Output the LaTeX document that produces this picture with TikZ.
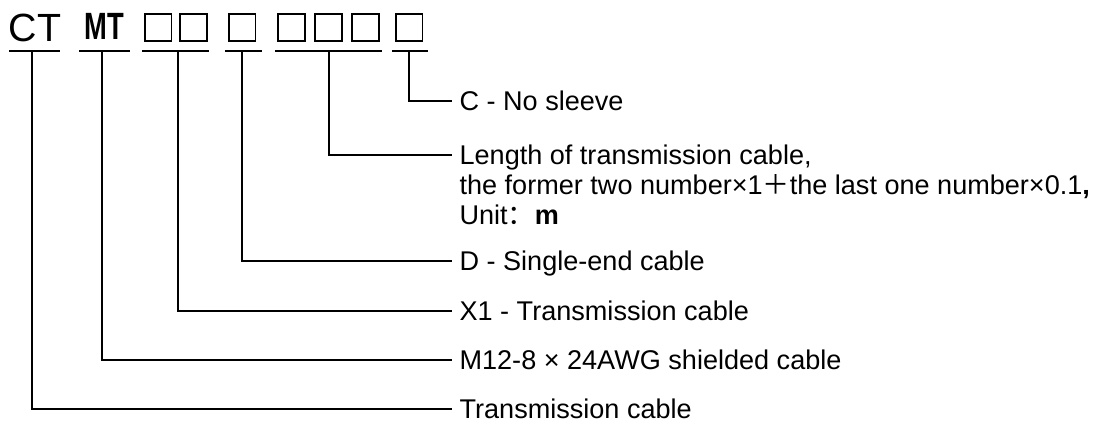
\documentclass[tikz,border=0pt]{standalone}
\usepackage{fontspec}
\setmainfont{Liberation Sans}
\newfontfamily\cjk{Noto Sans CJK SC}
\newfontfamily\narrowfont{Liberation Sans}[FakeStretch=0.72]
\usepackage{tikz}
\usetikzlibrary{positioning}

\begin{document}
\begin{tikzpicture}[x=0.75pt,y=-0.75pt,
    slot/.style={draw,line width=1.25pt,minimum size=20pt,inner sep=0pt},
    bar/.style={line width=1.5pt},
    lead/.style={line width=1.5pt},
    desc/.style={anchor=west,inner xsep=5.5pt,inner ysep=0pt,
      font=\fontsize{20.3}{24}\selectfont,text height=14.5pt,text depth=0pt}]
    \useasboundingbox (0,0) rectangle (1097,421);
    % Code letters
    \node[anchor=base,inner sep=0pt,font=\fontsize{29.5}{30}\selectfont] (ct) at (35,41.5) {CT};
    \node[anchor=base,inner sep=0pt,font=\narrowfont\bfseries\fontsize{28.5}{30}\selectfont] (mt) at (104,40) {MT};
    % Blank slots
    \foreach \n/\x in {1/158,2/193.5,3/242,4/291.5,5/328.5,6/365.5,7/409}
      \node[slot] (b\n) at (\x,27.5) {};
    % Underlines and their tap points
    \foreach \name/\a/\b/\m in {ct/9/60/32, mt/79/130/102, pair/142/209/178,
        single/225/262/242, triple/275/382/329, last/392/428/409} {
      \draw[bar] (\a,51) -- (\b,51);
      \coordinate (\name-tap) at (\m,51);
    }
    % Descriptions
    \node[desc] (dC) at (452,101) {C - No sleeve};
    \node[desc] (dL) at (452,155) {Length of transmission cable,};
    \node[desc,below right=7.6pt and 0pt of dL.south west] (dL2)
      {the former two number×1{\cjk ＋}the last one number×0.1\textbf{,}};
    \node[desc,below right=7.6pt and 0pt of dL2.south west] (dL3)
      {Unit{\cjk ：}\textbf{m}};
    \node[desc] (dD) at (452,261) {D - Single-end cable};
    \node[desc] (dX) at (452,311) {X1 - Transmission cable};
    \node[desc] (dM) at (452,360) {M12-8 × 24AWG shielded cable};
    \node[desc] (dT) at (452,409) {Transmission cable};
    % Leads
    \draw[lead] (last-tap) |- (dC.west);
    \draw[lead] (triple-tap) |- (dL.west);
    \draw[lead] (single-tap) |- (dD.west);
    \draw[lead] (pair-tap) |- (dX.west);
    \draw[lead] (mt-tap) |- (dM.west);
    \draw[lead] (ct-tap) |- (dT.west);
\end{tikzpicture}
\end{document}
